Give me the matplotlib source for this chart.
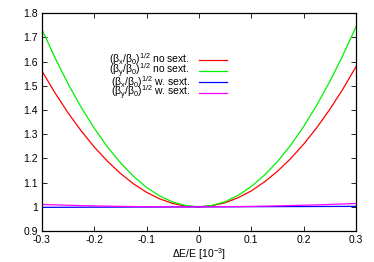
import matplotlib
matplotlib.use("Agg")
import matplotlib.pyplot as plt
from matplotlib.ticker import FormatStrFormatter

# energy deviation dE/E [1e-3]
dE = [-0.3, -0.275, -0.25, -0.225, -0.2, -0.175, -0.15, -0.125, -0.1, -0.075, -0.05, -0.025, 0.0,
      0.025, 0.05, 0.075, 0.1, 0.125, 0.15, 0.175, 0.2, 0.225, 0.25, 0.275, 0.3]

bx_nosext = [1.561, 1.471, 1.388, 1.314, 1.247, 1.189, 1.138, 1.095, 1.060, 1.033, 1.014, 1.003, 1.000,
             1.005, 1.017, 1.038, 1.066, 1.103, 1.147, 1.199, 1.259, 1.327, 1.403, 1.487, 1.579]
by_nosext = [1.733, 1.616, 1.508, 1.411, 1.325, 1.248, 1.182, 1.126, 1.080, 1.045, 1.020, 1.005, 1.000,
             1.006, 1.021, 1.048, 1.084, 1.131, 1.187, 1.254, 1.332, 1.420, 1.518, 1.626, 1.744]
bx_sext = [0.9980, 0.9982, 0.9983, 0.9985, 0.9987, 0.9988, 0.9990, 0.9992, 0.9993, 0.9995, 0.9997, 0.9998, 1.0,
           1.0002, 1.0003, 1.0005, 1.0007, 1.0008, 1.0010, 1.0012, 1.0013, 1.0015, 1.0017, 1.0018, 1.0020]
by_sext = [1.0100, 1.0083, 1.0066, 1.0052, 1.0040, 1.0029, 1.0020, 1.0013, 1.0006, 1.0002, 1.0000, 1.0000, 1.0,
           1.0003, 1.0006, 1.0012, 1.0020, 1.0029, 1.0041, 1.0053, 1.0068, 1.0082, 1.0100, 1.0119, 1.0140]

labels = [r"$(\beta_x/\beta_0)^{1/2}$ no sext.",
          r"$(\beta_y/\beta_0)^{1/2}$ no sext.",
          r"$(\beta_x/\beta_0)^{1/2}$ w. sext.",
          r"$(\beta_y/\beta_0)^{1/2}$ w. sext."]
colors = ["#ff0000", "#00f000", "#0000ff", "#ff00ff"]

plt.rcParams.update({'font.family': ['Liberation Sans', 'DejaVu Sans'],
                     'font.size': 7.5,
                     'mathtext.fontset': 'custom',
                     'mathtext.rm': 'Liberation Sans',
                     'mathtext.it': 'Liberation Sans',
                     'axes.unicode_minus': False})

fig = plt.figure(figsize=(3.74, 2.62), dpi=100)
ax = fig.add_axes([0.112, 0.118, 0.840, 0.832])

series = [bx_nosext, by_nosext, bx_sext, by_sext]
for ys, c in zip(series, colors):
    ax.plot(dE, ys, color=c, lw=0.9)

ax.set_xlim(-0.3, 0.3)
ax.set_ylim(0.9, 1.8)
ax.set_xticks([-0.3, -0.2, -0.1, 0, 0.1, 0.2, 0.3])
ax.set_yticks([0.9, 1.0, 1.1, 1.2, 1.3, 1.4, 1.5, 1.6, 1.7, 1.8])
ax.xaxis.set_major_formatter(FormatStrFormatter('%g'))
ax.yaxis.set_major_formatter(FormatStrFormatter('%g'))
ax.tick_params(direction='in', top=True, right=True, length=3.5, width=0.6, pad=3)
for s in ax.spines.values():
    s.set_linewidth(0.9)

ax.set_xlabel(r"$\Delta$E/E [10$^{-3}$]", labelpad=1)

# gnuplot-style key: right-aligned text, sample line on the right
for i, (lab, c) in enumerate(zip(labels, colors)):
    yk = 0.787 - i * 0.051
    ax.text(0.472, yk, lab, transform=ax.transAxes, ha='right', va='center')
    ax.plot([0.500, 0.589], [yk, yk], transform=ax.transAxes, color=c, lw=0.9)

plt.savefig('out.png', dpi=100)
